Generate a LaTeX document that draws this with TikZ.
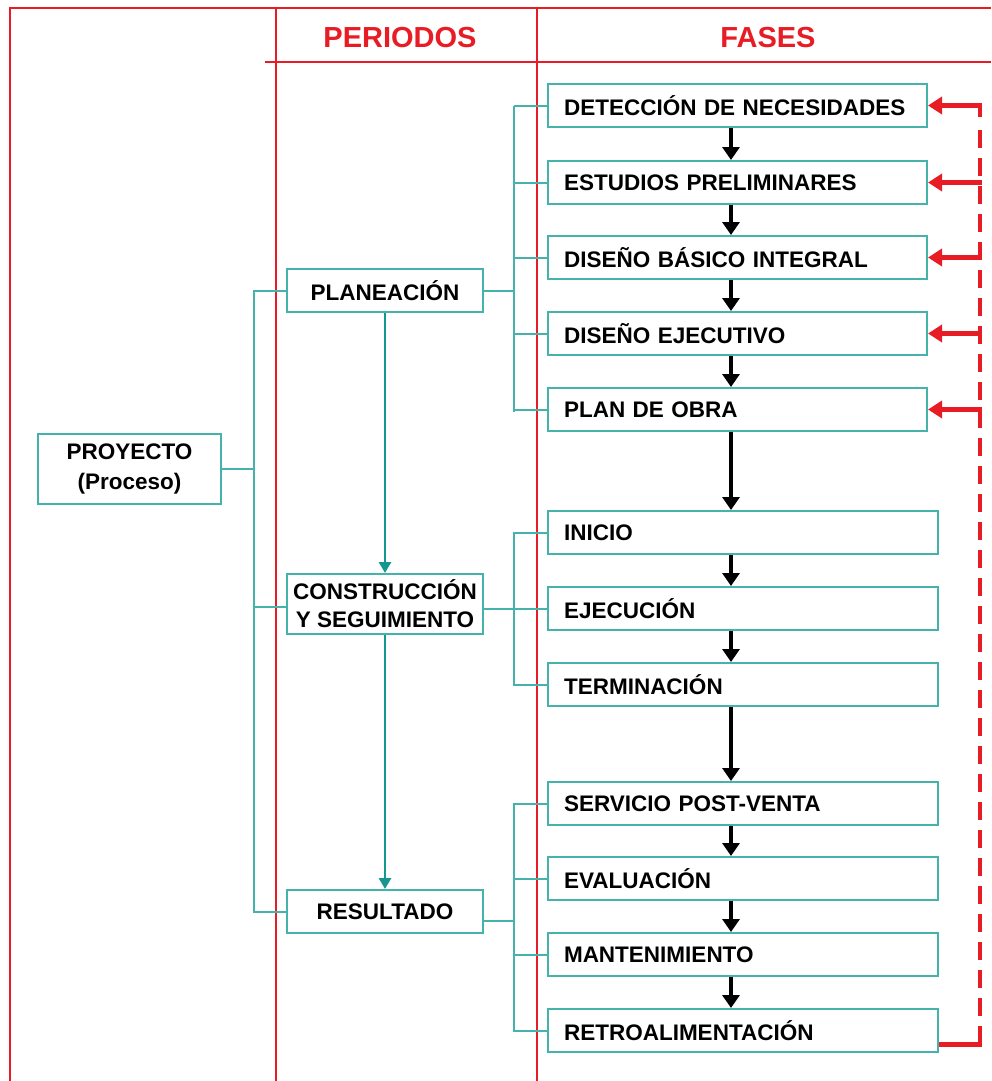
\documentclass[tikz,border=0pt]{standalone}
\usepackage{fontspec}
\setmainfont{Liberation Sans}
\usetikzlibrary{arrows.meta}
\definecolor{tealbox}{RGB}{70,178,172}
\definecolor{tealarr}{RGB}{20,150,145}
\definecolor{redline}{RGB}{232,28,36}
\begin{document}
\begin{tikzpicture}[x=1pt,y=-1pt,
  box/.style={draw=tealbox,line width=2pt,font=\bfseries\fontsize{22.5}{28}\selectfont,inner sep=0pt},
  fasea/.style={box,anchor=west,minimum height=43pt,text width=347pt,inner xsep=16pt,align=left},
  faseb/.style={box,anchor=west,minimum height=43pt,text width=358pt,inner xsep=16pt,align=left},
  periodo/.style={box,minimum width=196pt,minimum height=43pt,align=center},
  header/.style={text=redline,font=\bfseries\fontsize{29}{34}\selectfont},
  frame/.style={draw=redline,line width=1.5pt},
  tconn/.style={draw=tealbox,line width=2pt},
  tarrow/.style={draw=tealarr,line width=2.6pt,-{Triangle[length=11pt,width=12pt]}},
  barrow/.style={draw=black,line width=4.5pt,-{Triangle[length=13pt,width=17pt]}},
  rarrow/.style={draw=redline,line width=4.5pt,-{Triangle[length=14pt,width=17pt]}},
  rline/.style={draw=redline,line width=4.5pt},
  rdash/.style={draw=redline,line width=4.5pt,dash pattern=on 18pt off 10pt}
]
\useasboundingbox (0,0) rectangle (991,1081);

% frame
\draw[frame] (10,1081) -- (10,8) -- (991,8);
\draw[frame] (276,8) -- (276,1081);
\draw[frame] (537,8) -- (537,1081);
\draw[frame] (265,62) -- (991,62);

% headers
\node[header] (hper) at (400,38) {PERIODOS};
\node[header] (hfas) at (768,38) {FASES};

% helper coordinates
\coordinate (b0) at (254,0);
\coordinate (b1) at (514,0);
\coordinate (ax) at (731,0);
\coordinate (rx) at (980,0);

% project and periods
\node[box,minimum width=183pt,minimum height=70pt,align=center] (proy) at (129.5,469) {PROYECTO\\[2pt](Proceso)};
\node[periodo] (plan) at (385,290.5) {PLANEACIÓN};
\node[periodo,minimum height=60pt] (cons) at (385,604) {CONSTRUCCIÓN\\Y SEGUIMIENTO};
\node[periodo] (res) at (385,911.5) {RESULTADO};

% phases
\node[fasea] (f1) at (547,105.5) {DETECCIÓN DE NECESIDADES};
\node[fasea] (f2) at (547,182.5) {ESTUDIOS PRELIMINARES};
\node[fasea] (f3) at (547,257.5) {DISEÑO BÁSICO INTEGRAL};
\node[fasea] (f4) at (547,333.5) {DISEÑO EJECUTIVO};
\node[fasea] (f5) at (547,409.5) {PLAN DE OBRA};
\node[faseb] (f6) at (547,532.5) {INICIO};
\node[faseb] (f7) at (547,608.5) {EJECUCIÓN};
\node[faseb] (f8) at (547,684.5) {TERMINACIÓN};
\node[faseb] (f9) at (547,803.5) {SERVICIO POST-VENTA};
\node[faseb] (f10) at (547,878.5) {EVALUACIÓN};
\node[faseb] (f11) at (547,954.5) {MANTENIMIENTO};
\node[faseb] (f12) at (547,1030.5) {RETROALIMENTACIÓN};

% left teal tree
\draw[tconn] (plan.west) -- (plan.west -| b0) -- (res.west -| b0) -- (res.west);
\draw[tconn] (proy.east) -- (proy.east -| b0);
\draw[tconn] ([yshift=-3pt]cons.west) -- ([yshift=-3pt]cons.west -| b0);

% teal arrows between periods
\draw[tarrow] (plan.south) -- (cons.north);
\draw[tarrow] (cons.south) -- (res.north);

% group 1
\draw[tconn] (plan.east) -- (plan.east -| b1);
\draw[tconn] (f1.west -| b1) -- ([yshift=-2pt]f5.west -| b1);
\foreach \f in {f1,f2,f3,f4,f5} \draw[tconn] (\f.west) -- (\f.west -| b1);

% group 2
\draw[tconn] (f7.west -| cons.east) -- (f7.west);
\draw[tconn] (f6.west) -- (f6.west -| b1) -- (f8.west -| b1) -- (f8.west);

% group 3
\draw[tconn] ([yshift=-9pt]res.east) -- ([yshift=-9pt]res.east -| b1);
\draw[tconn] (f9.west) -- (f9.west -| b1) -- (f12.west -| b1) -- (f12.west);
\draw[tconn] (f10.west) -- (f10.west -| b1);
\draw[tconn] (f11.west) -- (f11.west -| b1);

% black flow arrows
\draw[barrow] (f1.south -| ax) -- (f2.north -| ax);
\draw[barrow] (f2.south -| ax) -- (f3.north -| ax);
\draw[barrow] (f3.south -| ax) -- (f4.north -| ax);
\draw[barrow] (f4.south -| ax) -- (f5.north -| ax);
\draw[barrow] (f5.south -| ax) -- (f6.north -| ax);
\draw[barrow] (f6.south -| ax) -- (f7.north -| ax);
\draw[barrow] (f7.south -| ax) -- (f8.north -| ax);
\draw[barrow] (f8.south -| ax) -- (f9.north -| ax);
\draw[barrow] (f9.south -| ax) -- (f10.north -| ax);
\draw[barrow] (f10.south -| ax) -- (f11.north -| ax);
\draw[barrow] (f11.south -| ax) -- (f12.north -| ax);

% red feedback
\coordinate (rb) at ([yshift=-14pt]f12.east -| rx);
\coordinate (rt) at (f1.east -| rx);
\draw[rline] ([yshift=-14pt]f12.east) -- (rb) -- ++(0,-8);
\draw[rline] ([yshift=2.25pt]rt) -- ++(0,14);
\draw[rdash] ([yshift=-24pt]rt) -- (rb);
\foreach \f in {f1,f2,f3,f4,f5} \draw[rarrow] ([xshift=2.25pt]\f.east -| rx) -- (\f.east);
\end{tikzpicture}
\end{document}
